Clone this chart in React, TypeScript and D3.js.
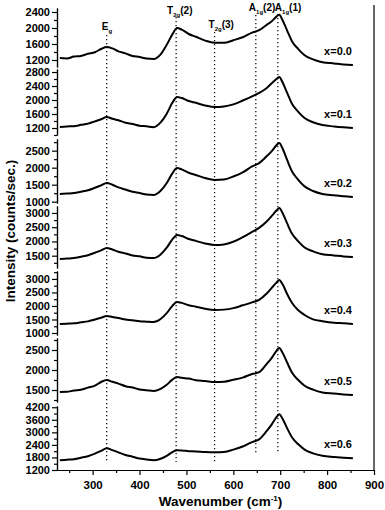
import React, { useEffect, useRef } from 'react'
import * as d3 from 'd3'

// Raman spectra, Raman shift in cm-1 (shared by every trace)
const WAVENUMBERS = [
  230, 245, 260, 275, 290, 305, 318, 330, 342, 355, 370, 385, 400, 415, 430,
  445, 458, 470, 480, 490, 505, 520, 540, 560, 580, 600, 620, 640, 655, 670,
  682, 692, 698, 705, 715, 725, 738, 752, 770, 790, 815, 835, 855,
]

const X00 = [
  1250, 1240, 1285, 1300, 1355, 1395, 1475, 1525, 1490, 1415, 1365, 1300, 1275, 1235, 1225,
  1340, 1580, 1840, 2000, 1960, 1850, 1780, 1685, 1630, 1630, 1695, 1770, 1885, 1945, 2070,
  2170, 2285, 2330, 2195, 1930, 1670, 1480, 1320, 1215, 1145, 1115, 1090, 1075,
]
const X01 = [
  1229, 1245, 1250, 1290, 1325, 1390, 1450, 1515, 1465, 1420, 1350, 1315, 1265, 1250, 1225,
  1360, 1610, 1920, 2085, 2055, 1970, 1920, 1845, 1800, 1815, 1875, 1985, 2105, 2205, 2330,
  2480, 2600, 2660, 2505, 2195, 1895, 1670, 1485, 1365, 1285, 1245, 1220, 1200,
]
const X02 = [
  1226, 1240, 1255, 1295, 1335, 1410, 1480, 1550, 1500, 1420, 1360, 1290, 1255, 1210, 1197,
  1320, 1550, 1835, 1990, 1950, 1850, 1785, 1695, 1640, 1650, 1740, 1860, 2035, 2135, 2320,
  2485, 2660, 2725, 2565, 2220, 1895, 1650, 1450, 1315, 1228, 1190, 1160, 1138,
]
const X03 = [
  1384, 1400, 1415, 1465, 1515, 1605, 1685, 1770, 1720, 1640, 1580, 1510, 1478, 1430, 1419,
  1545, 1780, 2070, 2225, 2190, 2085, 2020, 1930, 1875, 1895, 1990, 2150, 2335, 2475, 2680,
  2895, 3085, 3175, 3000, 2625, 2275, 2010, 1790, 1650, 1550, 1510, 1475, 1454,
]
const X04 = [
  1333, 1345, 1360, 1395, 1430, 1500, 1565, 1630, 1590, 1555, 1500, 1475, 1435, 1420, 1407,
  1520, 1735, 2005, 2145, 2115, 2030, 1975, 1895, 1850, 1865, 1920, 2025, 2135, 2225, 2440,
  2670, 2865, 2960, 2800, 2435, 2120, 1850, 1665, 1505, 1435, 1375, 1360, 1333,
]
const X05 = [
  1450, 1455, 1485, 1505, 1560, 1610, 1700, 1750, 1705, 1660, 1595, 1560, 1515, 1495, 1475,
  1530, 1630, 1760, 1825, 1805, 1785, 1745, 1725, 1700, 1705, 1755, 1810, 1900, 1945, 2135,
  2305, 2480, 2550, 2430, 2180, 1935, 1755, 1605, 1510, 1440, 1410, 1390, 1375,
]
const X06 = [
  1664, 1690, 1715, 1785, 1860, 1985, 2115, 2240, 2150, 2045, 1915, 1835, 1745, 1700, 1664,
  1740, 1875, 2050, 2140, 2135, 2100, 2090, 2060, 2050, 2065, 2175, 2325, 2535, 2665, 3030,
  3380, 3725, 3860, 3650, 3190, 2765, 2440, 2175, 1995, 1880, 1825, 1790, 1760,
]

const SPECTRA = [X00, X01, X02, X03, X04, X05, X06]
const COMPOSITIONS = ['x=0.0', 'x=0.1', 'x=0.2', 'x=0.3', 'x=0.4', 'x=0.5', 'x=0.6']

// per-panel intensity ranges and tick labels
const Y_DOMAINS = [
  [1025, 2500], [1000, 2886], [962, 2843], [1068, 3244], [926, 3294], [1200, 2800], [1200, 4260],
]
const Y_TICKS = [
  [1200, 1600, 2000, 2400],
  [1200, 1600, 2000, 2400, 2800],
  [1000, 1500, 2000, 2500],
  [1500, 2000, 2500, 3000],
  [1000, 1500, 2000, 2500, 3000],
  [1500, 2000, 2500],
  [1200, 1800, 2400, 3000, 3600, 4200],
]
const Y_STEPS = [400, 400, 500, 500, 500, 500, 600]

const X_DOMAIN = [224, 900]
const X_TICKS = [300, 400, 500, 600, 700, 800, 900]
const X_MINOR = [250, 350, 450, 550, 650, 750, 850]

// phonon modes
const MODE_WAVENUMBERS = [330, 478, 560, 648, 695]
const MODE_SYMBOLS = ['E', 'T', 'T', 'A', 'A']
const MODE_SUBS = ['g', '2g', '2g', '1g', '1g']
const MODE_ORDERS = ['', '(2)', '(3)', '(2)', '(1)']

// layout
const W = 385
const H = 510
const AXIS_LEFT = 57
const AXIS_RIGHT = 374
const PANEL_TOP = [8, 69, 139, 206, 271, 338, 406]
const PANEL_BOTTOM = [67, 135, 203, 268, 335, 402, 470]
const MODE_LAYOUT = [
  { dx: -5, y: 30, top: 35, bottom: 463 },
  { dx: -9, y: 14, top: 17, bottom: 462 },
  { dx: -6, y: 28, top: 32, bottom: 462 },
  { dx: -7, y: 11, top: 15, bottom: 455 },
  { dx: -3, y: 11, top: 14, bottom: 452 },
]
const FONT = '"Liberation Sans", Arial, sans-serif'

export default function App() {
  const svgRef = useRef<SVGSVGElement>(null)

  useEffect(() => {
    const svg = d3.select(svgRef.current)
    svg.selectAll('*').remove()

    const x = d3.scaleLinear().domain(X_DOMAIN).range([AXIS_LEFT, AXIS_RIGHT])

    const styleAxis = (g: any, size: number) => {
      g.selectAll('path, line').attr('stroke', '#000').attr('stroke-width', 1.2)
      g.selectAll('text')
        .attr('fill', '#000')
        .attr('font-family', FONT)
        .attr('font-weight', 'bold')
        .attr('font-size', size)
    }

    // mode markers
    MODE_WAVENUMBERS.forEach((wn, i) => {
      const lay = MODE_LAYOUT[i]
      svg.append('line')
        .attr('x1', x(wn)).attr('x2', x(wn))
        .attr('y1', lay.top).attr('y2', lay.bottom)
        .attr('stroke', '#000')
        .attr('stroke-width', 1.2)
        .attr('stroke-dasharray', '1.2,2.8')
      const t = svg.append('text')
        .attr('x', x(wn) + lay.dx)
        .attr('y', lay.y)
        .attr('font-family', FONT)
        .attr('font-weight', 'bold')
        .attr('font-size', 10)
      t.append('tspan').text(MODE_SYMBOLS[i])
      t.append('tspan').attr('font-size', 6).attr('dy', 2.5).text(MODE_SUBS[i])
      if (MODE_ORDERS[i]) t.append('tspan').attr('dy', -2.5).text(MODE_ORDERS[i])
    })

    const line = d3.line<number>()
      .x((_, i) => x(WAVENUMBERS[i]))
      .curve(d3.curveMonotoneX)

    SPECTRA.forEach((vals, i) => {
      const y = d3.scaleLinear().domain(Y_DOMAINS[i]).range([PANEL_BOTTOM[i], PANEL_TOP[i]])

      const minor = d3.range(Y_TICKS[i][0] - Y_STEPS[i] / 2, Y_DOMAINS[i][1], Y_STEPS[i] / 2)
        .filter((v) => v >= Y_DOMAINS[i][0] && !Y_TICKS[i].includes(v))
      const gm = svg.append('g')
        .attr('transform', `translate(${AXIS_LEFT},0)`)
        .call(d3.axisLeft(y).tickValues(minor).tickSize(3).tickSizeOuter(0).tickFormat(() => ''))
      styleAxis(gm, 11)

      const ga = svg.append('g')
        .attr('transform', `translate(${AXIS_LEFT},0)`)
        .call(d3.axisLeft(y).tickValues(Y_TICKS[i]).tickSize(5).tickSizeOuter(0).tickPadding(2).tickFormat(d3.format('d')))
      styleAxis(ga, 11)

      svg.append('path')
        .attr('d', line.y((d) => y(d))(vals))
        .attr('fill', 'none')
        .attr('stroke', '#000')
        .attr('stroke-width', 2)
        .attr('stroke-linejoin', 'round')

      svg.append('text')
        .attr('x', x(853))
        .attr('y', y(vals[vals.length - 1]) - 10)
        .attr('text-anchor', 'end')
        .attr('font-family', FONT)
        .attr('font-weight', 'bold')
        .attr('font-size', 11)
        .text(COMPOSITIONS[i])
    })

    // x axis
    const xm = svg.append('g')
      .attr('transform', `translate(0,${PANEL_BOTTOM[6]})`)
      .call(d3.axisBottom(x).tickValues(X_MINOR).tickSize(3).tickSizeOuter(0).tickFormat(() => ''))
    styleAxis(xm, 11.5)
    const xa = svg.append('g')
      .attr('transform', `translate(0,${PANEL_BOTTOM[6]})`)
      .call(d3.axisBottom(x).tickValues(X_TICKS).tickSize(5).tickSizeOuter(0).tickPadding(6))
    styleAxis(xa, 11.5)

    // right frame
    svg.append('line')
      .attr('x1', AXIS_RIGHT).attr('x2', AXIS_RIGHT)
      .attr('y1', 5).attr('y2', PANEL_BOTTOM[6])
      .attr('stroke', '#000')
      .attr('stroke-width', 1.2)

    // axis titles
    const xt = svg.append('text')
      .attr('x', (AXIS_LEFT + AXIS_RIGHT) / 2 + 5)
      .attr('y', 506)
      .attr('text-anchor', 'middle')
      .attr('font-family', FONT)
      .attr('font-weight', 'bold')
      .attr('font-size', 13.5)
    xt.append('tspan').text('Wavenumber (cm')
    xt.append('tspan').attr('font-size', 8).attr('dy', -5).text('-1')
    xt.append('tspan').attr('dy', 5).text(')')

    svg.append('text')
      .attr('transform', `translate(15,231) rotate(-90)`)
      .attr('text-anchor', 'middle')
      .attr('font-family', FONT)
      .attr('font-weight', 'bold')
      .attr('font-size', 13.5)
      .text('Intensity (counts/sec.)')
  }, [])

  return (
    <svg
      ref={svgRef}
      width={W}
      height={H}
      style={{ position: 'absolute', left: 0, top: 0, background: '#fff' }}
    />
  )
}
